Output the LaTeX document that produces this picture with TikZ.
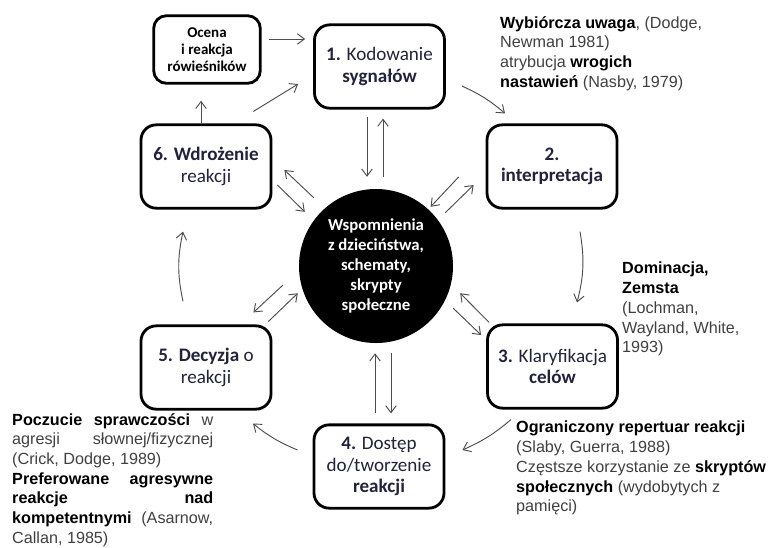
\documentclass[tikz,border=0pt]{standalone}
\usepackage{fontspec}
\setmainfont{Carlito}
\newfontfamily\arialfont{Liberation Sans}
\usetikzlibrary{arrows.meta}
\definecolor{arrowgray}{HTML}{4D4D4D}
\definecolor{notegray}{HTML}{404040}
\definecolor{boxtext}{HTML}{22223A}
\newcommand{\bk}[1]{\textbf{\color{black}#1}}

\begin{document}
\begin{tikzpicture}[x=0.03cm,y=-0.03cm]

	\tikzstyle{step_box} = [draw=black, line width=2.4pt, rounded corners=13pt, minimum width=3.9cm, minimum height=2.5cm, align=center, text=boxtext, font=\fontsize{16.3}{18.5}\selectfont, inner sep=2pt]
	\tikzstyle{peer_box} = [draw=black, line width=2.4pt, rounded corners=11pt, minimum width=3.2cm, minimum height=2.03cm, align=center, font=\bfseries\fontsize{12.8}{14.5}\selectfont, inner sep=2pt]
	\tikzstyle{memory_circle} = [circle, fill=black, minimum size=4.62cm, text=white, align=center, font=\bfseries\fontsize{14.3}{17}\selectfont, inner sep=0pt]
	\tikzstyle{link} = [draw=arrowgray, line width=0.8pt, -{Straight Barb[length=6pt,width=9pt]}]
	\tikzstyle{note_text} = [anchor=north west, align=left, inner sep=0pt, text=notegray, font=\arialfont\fontsize{13.8}{16.8}\selectfont]

	\useasboundingbox (0,0) rectangle (769,547);

%------------------------------------------------------------
	\node[memory_circle] (c) at (376,266) {Wspomnienia\\z dzieciństwa,\\schematy,\\skrypty\\społeczne};

	\node[peer_box] (oc) at (207,49.5) {Ocena\\i reakcja\\rówieśników};

	\node[step_box] (b1) at (379.5,66.5) {\textbf{1.} Kodowanie\\\textbf{sygnałów}};
	\node[step_box] (b2) at (552,166.5) {\textbf{2.}\\\textbf{interpretacja}};
	\node[step_box] (b3) at (552.5,366.5) {\textbf{3.} Klaryfikacja\\\textbf{celów}};
	\node[step_box] (b4) at (379,466.5) {\textbf{4.} Dostęp\\do/tworzenie\\\textbf{reakcji}};
	\node[step_box] (b5) at (206,367.5) {\textbf{5. Decyzja} o\\reakcji};
	\node[step_box] (b6) at (206,166.5) {\textbf{6. Wdrożenie}\\reakcji};

%------------------------------------------------------------

	\node[note_text] (n1) at (500,16) {\bk{Wybiórcza uwaga}, (Dodge,\\Newman 1981)\\atrybucja \bk{wrogich}\\\bk{nastawień} (Nasby, 1979)};
	\node[note_text] (n2) at (622,262) {\bk{Dominacja,}\\\bk{Zemsta}\\(Lochman,\\Wayland, White,\\1993)};
	\node[note_text] (n3) at (516,421) {\bk{Ograniczony repertuar reakcji}\\(Slaby, Guerra, 1988)\\Częstsze korzystanie ze \bk{skryptów}\\\bk{społecznych} (wydobytych z\\pamięci)};
	\node[note_text] (n4) at (12,413) {\makebox[6.03cm][s]{\bk{Poczucie sprawczości} w}\\\makebox[6.03cm][s]{agresji słownej/fizycznej}\\(Crick, Dodge, 1989)\\\makebox[6.03cm][s]{\bk{Preferowane agresywne}}\\\makebox[6.03cm][s]{\bk{reakcje nad}}\\\makebox[6.03cm][s]{\bk{kompetentnymi} (Asarnow,}\\Callan, 1985)};

%------------------------------------------------------------

	\draw[link] ([shift={(7,-10.5)}]oc.east) -- ([shift={(-8,-27.5)}]b1.west);
	\draw[link] ([shift={(-19,-12)}]b6.north east) -- ([shift={(-15,17.5)}]b1.west);
	\draw[link] ([shift={(-5,0)}]b6.north) -- ([shift={(-6,16)}]oc.south);
	\draw[link] ([shift={(16,19.5)}]b1.east) to[bend left=8] ([shift={(-47,-10)}]b2.north);
	\draw[link] ([shift={(28,22)}]b2.south) to[bend left=12] ([shift={(24.5,-21)}]b3.north);
	\draw[link] ([shift={(-41.5,10)}]b3.south) to[bend left=8] ([shift={(17,-16.5)}]b4.east);
	\draw[link] ([shift={(-15,-16.5)}]b4.west) to[bend left=8] ([shift={(47,13)}]b5.south);
	\draw[link] ([shift={(-23,-23)}]b5.north) to[bend left=12] ([shift={(-23,22)}]b6.south);

%------------------------------------------------------------

	\draw[link] ([shift={(-12.5,7)}]b1.south) -- ([shift={(-9,-12)}]c.north);
	\draw[link] ([shift={(7,-12)}]c.north) -- ([shift={(3.5,9)}]b1.south);
	\draw[link] ([shift={(-4,-10)}]b4.north) -- ([shift={(-1,10)}]c.south);
	\draw[link] ([shift={(15,10)}]c.south) -- ([shift={(12,-10)}]b4.north);
	\draw[link] ([shift={(5,18.5)}]b6.east) -- ([shift={(-16.6,0.4)}]c.135);
	\draw[link] ([shift={(-7.6,-13.6)}]c.135) -- ([shift={(12,3.5)}]b6.east);
	\draw[link] ([shift={(-27,10.5)}]b2.west) -- ([shift={(0,-4.6)}]c.45);
	\draw[link] ([shift={(14.6,1.4)}]c.45) -- ([shift={(-12,18.5)}]b2.west);
	\draw[link] ([shift={(-38.6,-35.4)}]c.225) -- ([shift={(-19,-12)}]b5.north east);
	\draw[link] ([shift={(-4,-3)}]b5.north east) -- ([shift={(-23.6,-27.4)}]c.225);
	\draw[link] ([shift={(3,-1)}]b3.north west) -- ([shift={(29.6,-27.4)}]c.-45);
	\draw[link] ([shift={(22.6,-12.4)}]c.-45) -- ([shift={(-5,-31.5)}]b3.west);

\end{tikzpicture}
\end{document}
